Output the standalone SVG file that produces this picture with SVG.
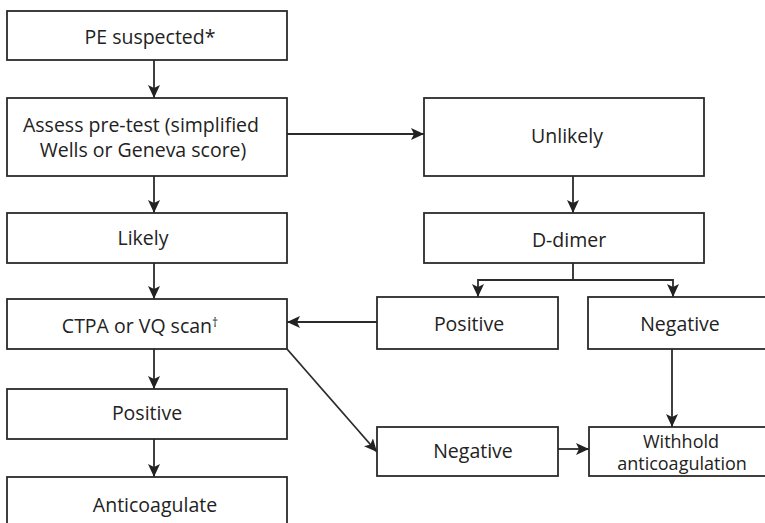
<svg xmlns="http://www.w3.org/2000/svg" width="765" height="523" viewBox="0 0 765 523">
<style>
.box{fill:#fff;stroke:#2b2b2b;stroke-width:1.8}
.t{font-family:"Open Sans","Liberation Sans",Arial,sans-serif;font-size:19.5px;fill:#222;text-anchor:middle}
.c{fill:none;stroke:#2b2b2b;stroke-width:1.8}
</style>
<defs>
<marker id="ah" markerUnits="userSpaceOnUse" markerWidth="14" markerHeight="12" refX="13" refY="6" orient="auto">
<path d="M0,0 L13,6 L0,12 L3,6 z" fill="#222"/>
</marker>
</defs>
<rect width="765" height="523" fill="#fff"/>
<g id="connectors">
<line class="c" x1="154" y1="60" x2="154" y2="98" marker-end="url(#ah)"/>
<line class="c" x1="287" y1="134" x2="424" y2="134" marker-end="url(#ah)"/>
<line class="c" x1="154" y1="176" x2="154" y2="213" marker-end="url(#ah)"/>
<line class="c" x1="573" y1="176" x2="573" y2="213" marker-end="url(#ah)"/>
<line class="c" x1="154" y1="263" x2="154" y2="299" marker-end="url(#ah)"/>
<path class="c" d="M573,263 V280 M478,280 H673"/>
<line class="c" x1="478" y1="279.1" x2="478" y2="297" marker-end="url(#ah)"/>
<line class="c" x1="673" y1="279.1" x2="673" y2="297" marker-end="url(#ah)"/>
<line class="c" x1="377" y1="322" x2="287" y2="322" marker-end="url(#ah)"/>
<line class="c" x1="287" y1="349" x2="377" y2="452" marker-end="url(#ah)"/>
<line class="c" x1="672" y1="349" x2="672" y2="427" marker-end="url(#ah)"/>
<line class="c" x1="558" y1="449" x2="589" y2="449" marker-end="url(#ah)"/>
<line class="c" x1="154" y1="349" x2="154" y2="389" marker-end="url(#ah)"/>
<line class="c" x1="154" y1="439" x2="154" y2="477" marker-end="url(#ah)"/>
</g>
<g id="pe-suspected"><rect class="box" x="7" y="11" width="280" height="49"/><text class="t" x="150" y="44">PE suspected*</text></g>
<g id="assess"><rect class="box" x="7" y="98" width="280" height="78"/><text class="t"><tspan x="141" y="132">Assess pre-test (simplified</tspan><tspan x="143" y="157">Wells or Geneva score)</tspan></text></g>
<g id="unlikely"><rect class="box" x="424" y="98" width="280" height="78"/><text class="t" x="567" y="143">Unlikely</text></g>
<g id="likely"><rect class="box" x="7" y="213" width="280" height="50"/><text class="t" x="143" y="245">Likely</text></g>
<g id="d-dimer"><rect class="box" x="424" y="213" width="280" height="50"/><text class="t" x="569" y="247">D-dimer</text></g>
<g id="ctpa"><rect class="box" x="7" y="299" width="280" height="50"/><text class="t" x="140" y="333">CTPA or VQ scan<tspan font-size="12" dy="-6">†</tspan></text></g>
<g id="dd-positive"><rect class="box" x="377" y="297" width="181" height="52"/><text class="t" x="469" y="331">Positive</text></g>
<g id="dd-negative"><rect class="box" x="588" y="297" width="190" height="52"/><text class="t" x="680" y="331">Negative</text></g>
<g id="positive"><rect class="box" x="7" y="389" width="280" height="50"/><text class="t" x="147" y="420">Positive</text></g>
<g id="negative"><rect class="box" x="377" y="427" width="181" height="49"/><text class="t" x="473" y="458">Negative</text></g>
<g id="withhold"><rect class="box" x="589" y="427" width="190" height="49"/><text class="t" style="font-size:18px"><tspan x="681" y="448">Withhold</tspan><tspan x="682" y="470">anticoagulation</tspan></text></g>
<g id="anticoagulate"><rect class="box" x="7" y="477" width="280" height="60"/><text class="t" x="155" y="512">Anticoagulate</text></g>
</svg>
